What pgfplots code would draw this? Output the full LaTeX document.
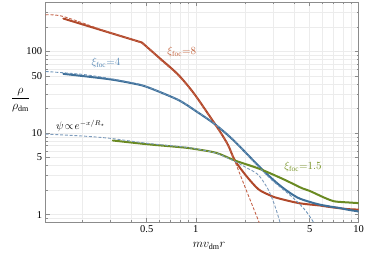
\documentclass[border=0pt]{standalone}
\usepackage{fontspec}
\setmainfont{Liberation Serif}
\usepackage{pgfplots}
\pgfplotsset{compat=1.18}
\definecolor{cred}{RGB}{176,72,42}
\definecolor{credd}{RGB}{196,98,72}
\definecolor{cblue}{RGB}{63,112,153}
\definecolor{cblued}{RGB}{108,147,185}
\definecolor{cpsi}{RGB}{125,155,188}
\definecolor{cgreen}{RGB}{106,138,34}
\definecolor{lred}{RGB}{196,100,62}
\definecolor{lblue}{RGB}{92,140,184}
\definecolor{lgreen}{RGB}{122,150,42}
\definecolor{gridc}{RGB}{236,236,236}
\definecolor{framec}{RGB}{140,140,140}

\pgfplotstableread{
x y
0.154 254
0.268 181
0.467 129
}\redsolidA

\pgfplotstableread{
x y
0.467 129
0.60 83
0.78 52
0.97 31
1.22 16
1.41 10.4
1.58 7.1
1.74 4.6
2.05 2.95
2.42 2.05
2.8 1.75
3.15 1.6
4.3 1.38
5.8 1.29
6.4 1.25
8.4 1.17
10 1.15
}\redsolidB

\pgfplotstableread{
x y
0.12 282
0.154 269
0.284 176
0.467 126
0.60 81
0.78 51
0.97 30.5
1.22 15.8
1.41 10.3
1.58 7.0
1.74 4.47
2.0 2.21
2.2 1.37
2.45 0.80
}\reddash

\pgfplotstableread{
x y
0.154 53.2
0.30 45.5
0.455 39.0
}\bluesolidA

\pgfplotstableread{
x y
0.455 39.0
0.524 35.6
0.78 25.5
1.01 18.4
1.28 13.3
1.55 9.7
1.78 7.5
2.0 5.9
2.4 4.05
2.8 3.0
3.4 2.15
4.2 1.62
5.0 1.43
5.8 1.32
6.9 1.24
7.7 1.2
8.5 1.15
10 1.09
}\bluesolidB

\pgfplotstableread{
x y
0.12 56.9
0.2 52.5
0.3 46.5
0.455 39.5
0.524 35.8
0.78 25.6
1.01 18.5
1.28 13.4
1.55 9.8
1.78 7.6
2.21 4.7
2.92 2.67
3.88 1.66
4.68 1.14
5.27 0.81
}\bluedash

\pgfplotstableread{
x y
0.12 9.7
0.2 9.2
0.3 8.6
0.5 7.5
0.84 6.75
1.0 6.4
1.34 5.65
1.74 4.47
2.05 3.75
2.42 3.07
2.79 2.01
3.07 1.25
3.29 0.80
}\psidash

\pgfplotstableread{
x y
0.31 8.1
0.5 7.3
0.84 6.65
1.0 6.35
1.34 5.7
1.74 4.6
2.45 3.65
3.4 2.75
4.5 2.1
5.0 1.95
6.2 1.6
7.0 1.46
7.6 1.43
8.5 1.41
10 1.38
}\greensolid

\begin{document}
\begin{tikzpicture}
\begin{loglogaxis}[
  name=ax,
  scale only axis, width=313pt, height=220pt,
  xmin=0.12, xmax=10, ymin=0.81, ymax=405,
  xtick={0.5,1,5,10}, xticklabels={0.5,1,5,10},
  minor xtick={0.2,0.3,0.4,0.6,0.7,0.8,0.9,2,3,4,6,7,8,9},
  ytick={1,5,10,50,100}, yticklabels={1,5,10,50,100},
  minor ytick={0.9,2,3,4,6,7,8,9,20,30,40,60,70,80,90,200,300,400},
  grid=both,
  major grid style={gridc, line width=0.5pt},
  minor grid style={gridc, line width=0.5pt},
  tick align=inside,
  major tick length=4pt, minor tick length=2pt,
  axis line style={framec, line width=0.6pt},
  every tick/.style={framec, line width=0.5pt},
  ticklabel style={font=\fontsize{10.5}{12}\selectfont, text=black},
  clip mode=individual,
]
\addplot[cred, line width=2pt, line cap=round] table {\redsolidA};
\addplot[cred, line width=2pt, line cap=round, smooth, tension=0.5] table {\redsolidB};
\addplot[cblue, line width=2pt, line cap=round, smooth, tension=0.5] table {\bluesolidA};
\addplot[cblue, line width=2pt, line cap=round, smooth, tension=0.5] table {\bluesolidB};
\addplot[cgreen, line width=2pt, line cap=round, smooth, tension=0.5] table {\greensolid};
\addplot[credd, line width=0.9pt, dash pattern=on 3pt off 1.8pt, smooth] table {\reddash};
\addplot[cblued, line width=0.9pt, dash pattern=on 3pt off 1.8pt, smooth] table {\bluedash};
\addplot[cpsi, line width=0.9pt, dash pattern=on 3pt off 1.8pt, smooth] table {\psidash};
\node[text=lred, font=\fontsize{10.5}{12}\selectfont] at (axis cs:0.82,99) {$\xi_{\mathrm{foc}}{=}8$};
\node[text=lblue, font=\fontsize{10.5}{12}\selectfont] at (axis cs:0.281,72.6) {$\xi_{\mathrm{foc}}{=}4$};
\node[text=black, font=\fontsize{10.5}{12}\selectfont] at (axis cs:0.197,12.2) {$\psi\!\propto\! e^{-x/R_\star}$};
\node[text=lgreen, font=\fontsize{10.5}{12}\selectfont] at (axis cs:4.55,3.85) {$\xi_{\mathrm{foc}}{=}1.5$};
\end{loglogaxis}
\path (ax.south west) ++(-25.2pt,122pt) node[font=\fontsize{12}{14}\selectfont] {$\displaystyle\frac{\rho}{\rho_{\mathrm{dm}}}$};
\path (ax.south west) ++(163.3pt,-24pt) node[font=\fontsize{12}{14}\selectfont] {$m v_{\mathrm{dm}} r$};
\pgfresetboundingbox
\path[use as bounding box] (ax.south west) ++(-45.7pt,-33pt) rectangle ++(366pt,255pt);
\end{tikzpicture}
\end{document}
